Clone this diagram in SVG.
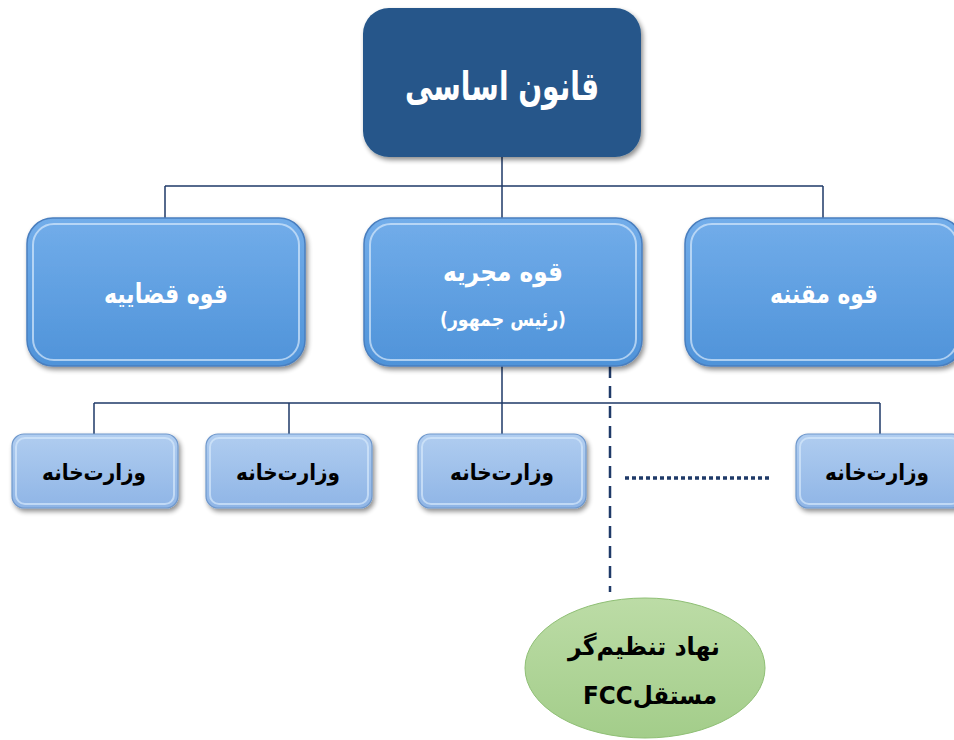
<svg xmlns="http://www.w3.org/2000/svg" width="954" height="740" viewBox="0 0 954 740">
<defs>
<linearGradient id="g2" x1="0" y1="0" x2="0" y2="1">
<stop offset="0" stop-color="#72adea"/>
<stop offset="1" stop-color="#4f93d9"/>
</linearGradient>
<linearGradient id="g3" x1="0" y1="0" x2="0" y2="1">
<stop offset="0" stop-color="#b0cdf0"/>
<stop offset="1" stop-color="#8fb5e6"/>
</linearGradient>
<linearGradient id="gE" x1="0" y1="0" x2="0" y2="1">
<stop offset="0" stop-color="#bcdca6"/>
<stop offset="1" stop-color="#a3cd8a"/>
</linearGradient>
<filter id="sh" x="-10%" y="-10%" width="130%" height="130%">
<feGaussianBlur in="SourceAlpha" stdDeviation="2.5"/>
<feOffset dx="1.5" dy="3" result="b"/>
<feComponentTransfer><feFuncA type="linear" slope="0.45"/></feComponentTransfer>
<feMerge><feMergeNode/><feMergeNode in="SourceGraphic"/></feMerge>
</filter>
</defs>
<style>
.t{font-family:"DejaVu Sans",sans-serif;font-weight:bold;direction:rtl;text-anchor:middle}
.w{fill:#ffffff}
.k{fill:#000000}
.b2{fill:url(#g2);stroke:#4a7fbf;stroke-width:1.5}
.b3{fill:url(#g3);stroke:#6f98cc;stroke-width:1.2}
.in{fill:none;stroke:#d6e8fb;stroke-width:2;opacity:0.7}
.c{fill:none;stroke:#1f3a68;stroke-width:1.5}
</style>
<g id="connectors">
<path class="c" d="M502 157V186M165 186H823M165 186V218M502 186V218M823 186V218"/>
<path class="c" d="M502 366V403M94 403H880M94 403V434M289 403V434M502 403V434M880 403V434"/>
<path d="M610 366V592" fill="none" stroke="#1f3a68" stroke-width="2.5" stroke-dasharray="12,8"/>
<path d="M625 478H770" fill="none" stroke="#1f3a68" stroke-width="3.5" stroke-dasharray="4,3"/>
</g>
<g id="n_qanun">
<rect x="363" y="8" width="278" height="149" rx="26" fill="#25578a" filter="url(#sh)"/>
<text class="t w" x="502" y="100" font-size="40" textLength="194" lengthAdjust="spacingAndGlyphs">قانون اساسی</text>
</g>
<g id="n_qazaiye">
<rect class="b2" x="27" y="218" width="278" height="148" rx="26" filter="url(#sh)"/>
<rect class="in" x="33" y="224" width="266" height="136" rx="21"/>
<text class="t w" x="166" y="303" font-size="27" textLength="124" lengthAdjust="spacingAndGlyphs">قوه قضاییه</text>
</g>
<g id="n_mojriye">
<rect class="b2" x="364" y="218" width="278" height="148" rx="26" filter="url(#sh)"/>
<rect class="in" x="370" y="224" width="266" height="136" rx="21"/>
<text class="t w" x="503" y="281" font-size="27" textLength="120" lengthAdjust="spacingAndGlyphs">قوه مجریه</text>
<text class="t w" x="503" y="326" font-size="20" textLength="126" lengthAdjust="spacingAndGlyphs">(رئیس جمهور)</text>
</g>
<g id="n_moqanne">
<rect class="b2" x="685" y="218" width="278" height="148" rx="26" filter="url(#sh)"/>
<rect class="in" x="691" y="224" width="266" height="136" rx="21"/>
<text class="t w" x="824" y="303" font-size="27" textLength="108" lengthAdjust="spacingAndGlyphs">قوه مقننه</text>
</g>
<g id="n_vez1">
<rect class="b3" x="12" y="434" width="166" height="74" rx="12" filter="url(#sh)"/>
<rect class="in" x="16" y="438" width="158" height="66" rx="9"/>
<text class="t k" x="94" y="480" font-size="22" textLength="104" lengthAdjust="spacingAndGlyphs">وزارت‌خانه</text>
</g>
<g id="n_vez2">
<rect class="b3" x="206" y="434" width="166" height="74" rx="12" filter="url(#sh)"/>
<rect class="in" x="210" y="438" width="158" height="66" rx="9"/>
<text class="t k" x="288" y="480" font-size="22" textLength="104" lengthAdjust="spacingAndGlyphs">وزارت‌خانه</text>
</g>
<g id="n_vez3">
<rect class="b3" x="418" y="434" width="168" height="74" rx="12" filter="url(#sh)"/>
<rect class="in" x="422" y="438" width="160" height="66" rx="9"/>
<text class="t k" x="502" y="480" font-size="22" textLength="104" lengthAdjust="spacingAndGlyphs">وزارت‌خانه</text>
</g>
<g id="n_vez4">
<rect class="b3" x="796" y="434" width="168" height="74" rx="12" filter="url(#sh)"/>
<rect class="in" x="800" y="438" width="160" height="66" rx="9"/>
<text class="t k" x="877" y="480" font-size="22" textLength="104" lengthAdjust="spacingAndGlyphs">وزارت‌خانه</text>
</g>
<g id="n_fcc">
<ellipse cx="645" cy="668" rx="120" ry="70" fill="url(#gE)" stroke="#8fbf75" stroke-width="1"/>
<text class="t k" x="644" y="655" font-size="25" textLength="152" lengthAdjust="spacingAndGlyphs">نهاد تنظیم‌گر</text>
<text class="t k" x="650" y="704" font-size="25" textLength="134" lengthAdjust="spacingAndGlyphs">مستقلFCC</text>
</g>
</svg>
